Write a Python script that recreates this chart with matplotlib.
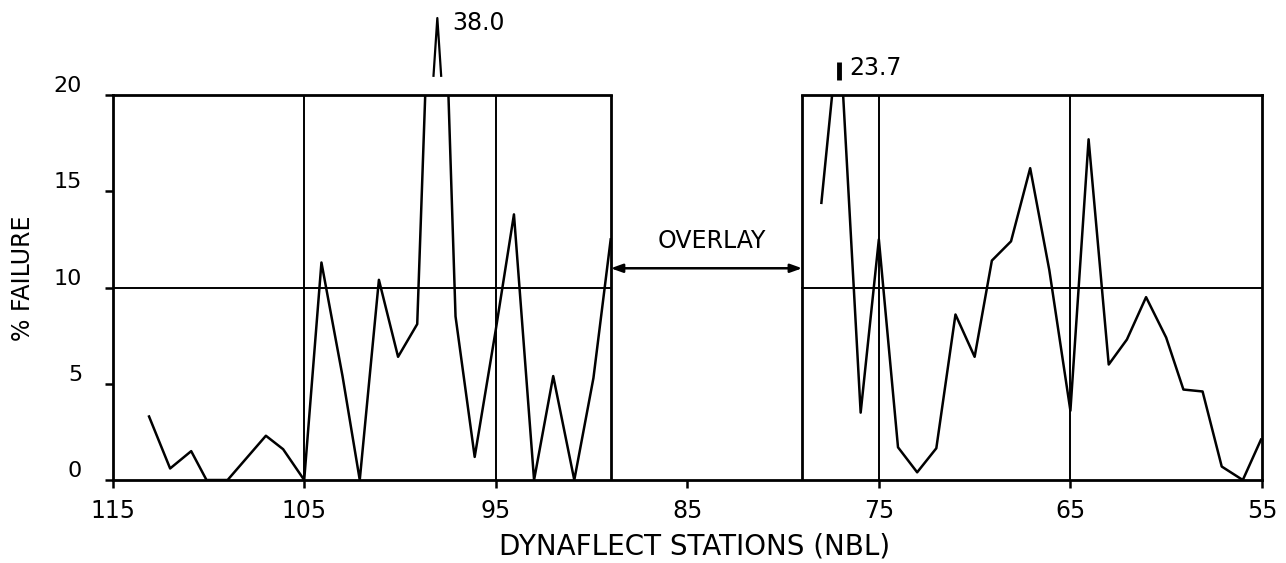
import matplotlib
matplotlib.use("Agg")
import matplotlib.pyplot as plt
import matplotlib.transforms as mtransforms
import numpy as np

# stations (NBL) and % failure
x_left = [113.1, 112.0, 110.9, 110.1, 109.0, 107.0, 106.1, 105.0, 104.1, 103.0,
          102.1, 101.1, 100.1, 99.1, 98.05, 97.1, 96.1, 95.0, 94.05, 93.0,
          92.0, 90.9, 89.9, 89.0]
y_left = [3.3, 0.6, 1.5, 0.0, 0.0, 2.3, 1.6, 0.0, 11.3, 5.4,
          0.0, 10.4, 6.4, 8.1, 38.0, 8.5, 1.2, 7.8, 13.8, 0.0,
          5.4, 0.0, 5.3, 12.5]

x_right = [78.0, 77.07, 75.95, 75.0, 74.0, 73.0, 72.0, 71.0, 70.0, 69.1,
           68.1, 67.1, 66.1, 65.0, 64.05, 63.0, 62.05, 61.05, 60.0, 59.1,
           58.1, 57.1, 56.0, 55.05]
y_right = [14.4, 23.7, 3.5, 12.5, 1.7, 0.4, 1.65, 8.6, 6.4, 11.4,
           12.4, 16.2, 10.9, 3.6, 17.7, 6.0, 7.3, 9.5, 7.4, 4.7,
           4.6, 0.7, 0.0, 2.1]

x_ticks = [115, 105, 95, 85, 75, 65, 55]
y_ticks = [0, 5, 10, 15, 20]
left_panel = (115, 89)
right_panel = (79, 55)
grid_x = [105, 95, 75, 65]
overlay_y = 11.0

fig = plt.figure(figsize=(12.86, 5.63), dpi=100)
ax = fig.add_axes([0.0876, 0.1474, 0.8937, 0.6838])
ax.set_xlim(115, 55)
ax.set_ylim(0, 20)

for s in ["top"]:
    ax.spines[s].set_visible(False)
for s in ["left", "right", "bottom"]:
    ax.spines[s].set_linewidth(2.0)

lw_box = 2.0
lw_grid = 1.4
# panel boxes
for a, b in [left_panel, right_panel]:
    ax.plot([a, b], [20, 20], color="black", lw=lw_box, clip_on=False)
    ax.plot([a, b], [10, 10], color="black", lw=lw_grid)
ax.plot([left_panel[1]] * 2, [0, 20], color="black", lw=lw_box)
ax.plot([right_panel[0]] * 2, [0, 20], color="black", lw=lw_box)
for gx in grid_x:
    ax.plot([gx, gx], [0, 20], color="black", lw=lw_grid)

# data
ax.plot(x_left, y_left, color="black", lw=1.8)
ax.plot(x_right, y_right, color="black", lw=1.8)

# off-scale peaks
i = int(np.argmax(y_left))
px = x_left[i]
ax.plot([px + 0.2, px, px - 0.2], [21.0, 24.0, 21.0], color="black", lw=1.6,
        clip_on=False)
ax.text(px - 0.8, 23.75, f"{y_left[i]:.1f}", fontsize=17, ha="left",
        va="center")

j = int(np.argmax(y_right))
qx = x_right[j]
ax.plot([qx, qx], [20.8, 21.7], color="black", lw=3.5, clip_on=False,
        solid_capstyle="butt")
ax.text(qx - 0.55, 21.4, f"{y_right[j]:.1f}", fontsize=17, ha="left",
        va="center")

# overlay arrow
ax.annotate("", xy=(left_panel[1], overlay_y), xytext=(right_panel[0], overlay_y),
            arrowprops=dict(arrowstyle="<|-|>,head_length=0.7,head_width=0.25",
                            color="black", lw=1.8, shrinkA=0, shrinkB=0))
ax.text((left_panel[1] + right_panel[0]) / 2 - 0.3, 12.4, "OVERLAY",
        fontsize=17, ha="center", va="center")

ax.set_xticks(x_ticks)
ax.set_xticklabels([str(t) for t in x_ticks], fontsize=17)
ax.set_yticks(y_ticks)
ax.set_yticklabels([str(t) for t in y_ticks], fontsize=16)
ax.tick_params(axis="x", direction="out", length=6, width=1.8, pad=8)
ax.tick_params(axis="y", direction="out", length=6, width=1.8, pad=16)
off = mtransforms.ScaledTranslation(0, 0.11, fig.dpi_scale_trans)
for lab in ax.get_yticklabels():
    lab.set_transform(lab.get_transform() + off)

fig.text(23 / 1286, 1 - 278 / 563, "% FAILURE", rotation=90, fontsize=17,
         ha="center", va="center")
fig.text(695 / 1286, 1 - 547 / 563, "DYNAFLECT STATIONS (NBL)", fontsize=20,
         ha="center", va="center")

fig.savefig("out.png", dpi=100, facecolor="white")
